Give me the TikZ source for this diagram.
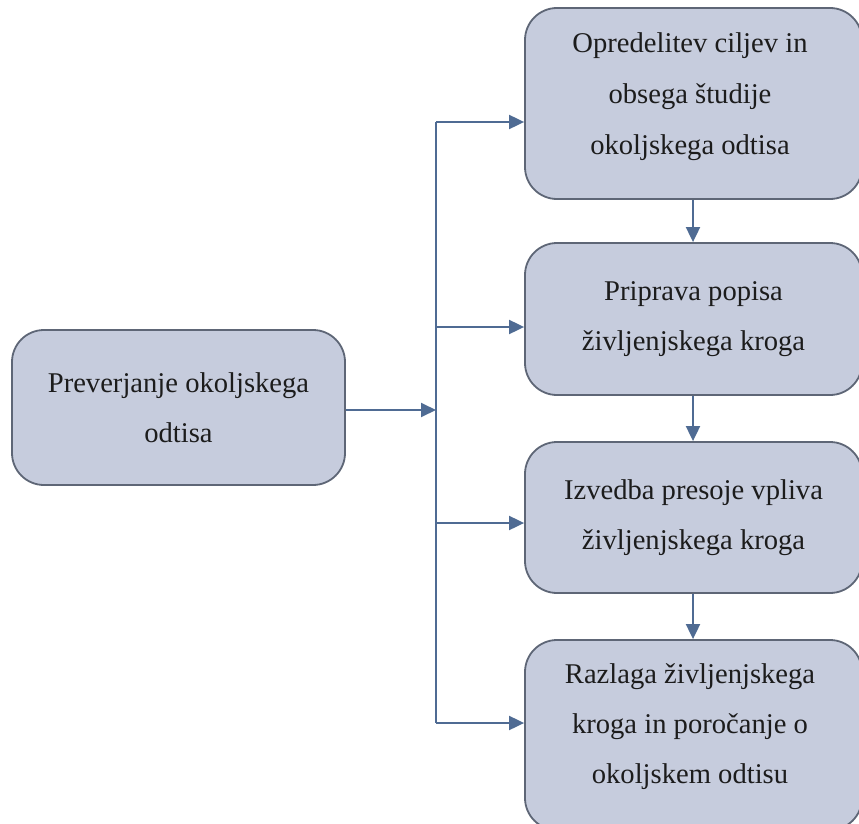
\documentclass[tikz,border=0pt]{standalone}
\usepackage{fontspec}
\setmainfont{Liberation Serif}
\usetikzlibrary{arrows.meta}
\definecolor{boxfill}{HTML}{C6CCDD}
\definecolor{boxline}{HTML}{5E6676}
\definecolor{arrowc}{HTML}{4F6B93}
\definecolor{txt}{HTML}{1C1C1C}
\tikzset{
  stage/.style={draw=boxline, fill=boxfill, line width=1.8pt, rounded corners=32pt,
    align=center, text=txt, inner sep=0pt,
    font=\fontsize{28.6pt}{50pt}\selectfont},
  link/.style={draw=arrowc, line width=1.9pt},
  arr/.style={link, -{Triangle[length=15pt,width=14pt]}}
}
\begin{document}
\begin{tikzpicture}[x=1pt,y=-1pt]
\useasboundingbox (0,0) rectangle (859,824);
\clip (0,0) rectangle (859,824);
% left box
\node[stage, minimum width=333pt, minimum height=155pt] (L) at (178.5,407.5)
  {Preverjanje okoljskega\\odtisa};
% right column
\node[stage, minimum width=337pt, minimum height=191pt] (B1) at (693.5,103.5) {};
\node[text=txt, align=center, font=\fontsize{28.6pt}{51pt}\selectfont] (T1) at (690,97)
  {Opredelitev ciljev in\\obsega študije\\okoljskega odtisa};
\node[stage, minimum width=337pt, minimum height=152pt] (B2) at (693.5,319)
  {Priprava popisa\\življenjskega kroga};
\node[stage, minimum width=337pt, minimum height=151pt] (B3) at (693.5,517.5)
  {Izvedba presoje vpliva\\življenjskega kroga};
\node[stage, minimum width=337pt, minimum height=190pt] (B4) at (693.5,735) {};
\node[text=txt, align=center, font=\fontsize{28.6pt}{50pt}\selectfont] (T4) at (690,727)
  {Razlaga življenjskega\\kroga in poročanje o\\okoljskem odtisu};
% bus junctions
\coordinate (j0) at (436,410);
\coordinate (j1) at (436,122);
\coordinate (j2) at (436,327);
\coordinate (j3) at (436,523);
\coordinate (j4) at (436,723);
\draw[arr] (L.east |- j0) -- (j0);
\draw[link] (j1) -- (j4);
\draw[arr] (j1) -- (j1 -| B1.west);
\draw[arr] (j2) -- (j2 -| B2.west);
\draw[arr] (j3) -- (j3 -| B3.west);
\draw[arr] (j4) -- (j4 -| B4.west);
% sequence arrows
\draw[arr] (B1.south -| 693,0) -- (B2.north -| 693,0);
\draw[arr] (B2.south -| 693,0) -- (B3.north -| 693,0);
\draw[arr] (B3.south -| 693,0) -- (B4.north -| 693,0);
\end{tikzpicture}
\end{document}
